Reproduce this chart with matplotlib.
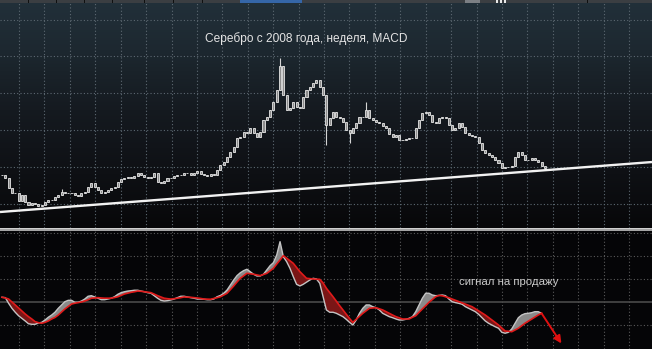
import numpy as np
import matplotlib
matplotlib.use("Agg")
import matplotlib.pyplot as plt
from matplotlib.patches import Rectangle
from matplotlib.colors import LinearSegmentedColormap

# Weekly silver closes (USD/oz), 2008 onwards
close = [
    17.86, 17.05, 14.34, 12.98, 12.98, 10.81, 12.44, 10.54, 9.73, 10.27,
    10.00, 9.46, 9.73, 10.54, 11.08, 11.08, 11.90, 12.44, 13.25, 12.98,
    12.98, 12.98, 12.44, 12.17, 12.98, 13.25, 14.61, 15.69, 14.61, 13.79,
    12.98, 13.25, 13.79, 14.34, 14.61, 15.96, 16.78, 17.05, 17.32, 17.05,
    17.59, 18.40, 17.86, 17.32, 17.05, 17.32, 18.40, 15.96, 15.69, 16.23,
    17.05, 17.05, 17.59, 17.86, 17.86, 18.40, 18.40, 17.86, 18.40, 18.95,
    18.13,
    17.86, 17.59, 18.13, 17.86, 19.22, 20.57, 21.39, 22.74, 24.10, 25.46,
    27.90, 28.17, 29.52, 29.25, 30.61, 29.25, 28.17, 29.52, 32.78, 33.59,
    35.49, 37.66, 40.91, 47.42, 39.56, 35.49, 36.03, 37.66, 36.30, 36.03,
    39.01, 40.91, 41.73, 42.81, 43.62, 41.73, 39.56, 31.42, 33.32, 34.95,
    33.59, 33.32, 32.23, 30.07, 29.25, 30.61, 31.96, 33.59, 33.59, 35.49,
    33.32,
    32.78, 32.23, 31.96, 31.15, 30.61, 28.98, 28.17, 28.71, 27.35, 27.35,
    27.62, 27.90, 27.90, 30.61, 32.78, 34.68, 34.95, 34.13, 32.23, 31.96,
    33.32, 33.59, 33.32, 31.42, 30.07, 30.61, 31.96, 30.88, 29.25, 28.71,
    28.44, 28.17, 26.54, 24.64, 23.83, 23.29, 22.74, 21.93, 21.12, 19.76,
    20.03, 20.03, 20.30, 22.74, 24.10, 23.29, 21.93, 21.93, 22.47, 21.93,
    21.39, 20.30, 19.76,
]

# Extreme intrabar highs / lows beyond the bodies
wick_high = {84: 49.6, 110: 37.7, 18: 14.1}
wick_low = {98: 26.0, 105: 26.5}

# MACD line and signal line
macd = [
    0.43, 0.40, -0.09, -0.52, -0.86, -1.16, -1.38, -1.61, -1.85, -1.90,
    -1.90, -1.79, -1.73, -1.53, -1.29, -1.10, -0.86, -0.52, -0.23, 0.05,
    0.17, 0.17, 0.00, 0.00, 0.11, 0.28, 0.52, 0.57, 0.46, 0.35,
    0.22, 0.22, 0.28, 0.35, 0.48, 0.69, 0.83, 0.91, 0.97, 1.00,
    1.04, 1.04, 0.97, 0.91, 0.83, 0.78, 0.57, 0.35, 0.17, 0.11,
    0.14, 0.20, 0.28, 0.40, 0.52, 0.52, 0.46, 0.40, 0.35, 0.28,
    0.28, 0.26, 0.22, 0.22, 0.28, 0.48, 0.59, 0.78, 1.06, 1.49,
    1.92, 2.30, 2.55, 2.73, 2.85, 2.64, 2.42, 2.27, 2.27, 2.42,
    2.79, 3.16, 3.42, 4.08, 5.23, 3.93, 3.50, 2.93, 2.21, 1.55,
    1.41, 1.55, 1.73, 1.92, 2.07, 2.01, 1.64, 0.48, -0.66, -0.86,
    -0.86, -0.95, -1.10, -1.24, -1.47, -1.73, -1.96, -1.53, -0.95, -0.52,
    -0.23, -0.23, -0.38, -0.47, -0.66, -0.95, -1.10, -1.24, -1.33, -1.44,
    -1.53, -1.53, -1.47, -1.38, -1.24, -0.81, -0.23, 0.35, 0.78, 0.78,
    0.63, 0.57, 0.59, 0.63, 0.57, 0.28, 0.05, -0.03, -0.09, -0.17,
    -0.38, -0.52, -0.66, -0.81, -1.04, -1.33, -1.61, -1.81, -1.96, -2.11,
    -2.24, -2.59, -2.67, -2.59, -2.30, -1.81, -1.33, -1.10, -0.98, -0.95,
    -0.90, -0.81, -0.81, -0.95,
]
signal = [
    0.43, 0.37, 0.28, 0.03, -0.23, -0.49, -0.75, -1.01, -1.24, -1.44,
    -1.67, -1.76, -1.81, -1.73, -1.61, -1.44, -1.31, -1.10, -0.84, -0.58,
    -0.36, -0.15, -0.08, -0.03, 0.03, 0.11, 0.22, 0.35, 0.37, 0.40,
    0.37, 0.35, 0.35, 0.35, 0.41, 0.48, 0.60, 0.72, 0.79, 0.86,
    0.91, 0.97, 0.95, 0.91, 0.87, 0.83, 0.70, 0.57, 0.46, 0.35,
    0.31, 0.28, 0.31, 0.35, 0.40, 0.46, 0.44, 0.43, 0.40, 0.37,
    0.33, 0.28, 0.27, 0.26, 0.33, 0.40, 0.48, 0.63, 0.78, 1.09,
    1.41, 1.75, 2.07, 2.29, 2.50, 2.46, 2.42, 2.36, 2.30, 2.40,
    2.50, 2.72, 2.93, 3.30, 3.65, 4.02, 3.80, 3.58, 3.36, 3.00,
    2.64, 2.36, 2.07, 2.04, 2.01, 1.99, 1.98, 1.67, 1.21, 0.85,
    0.48, 0.09, -0.29, -0.66, -1.04, -1.40, -1.73, -1.47, -1.21, -0.95,
    -0.73, -0.52, -0.49, -0.47, -0.56, -0.66, -0.81, -0.95, -1.10, -1.24,
    -1.34, -1.44, -1.44, -1.44, -1.29, -1.16, -0.86, -0.58, -0.29, 0.00,
    0.24, 0.48, 0.59, 0.56, 0.48, 0.39, 0.28, 0.17, 0.05, -0.06,
    -0.17, -0.28, -0.38, -0.56, -0.75, -0.92, -1.10, -1.31, -1.53, -1.74,
    -1.96, -2.22, -2.48, -2.50, -2.54, -2.39, -2.24, -2.03, -1.81, -1.63,
    -1.44, -1.27, -1.10, -0.95,
]

# Rising support line under the 2008 lows
support_start = 7.87     # level at the first bar
support_slope = 0.0688   # rise per bar

title = "Серебро с 2008 года, неделя, MACD"
note = "сигнал на продажу"

# ---------------------------------------------------------------- layout
W, H = 652, 349
fig = plt.figure(figsize=(W / 100, H / 100), dpi=100, facecolor="#050507")

px_per_bar = 3.31
x0 = -2 / px_per_bar
x1 = (W - 2) / px_per_bar

top_h = 228
ax = fig.add_axes([0, 1 - top_h / H, 1, top_h / H])
axm = fig.add_axes([0, 0, 1, (H - 231) / H])

for a in (ax, axm):
    a.set_xlim(x0, x1)
    a.set_facecolor("#050507")
    for s in a.spines.values():
        s.set_visible(False)
    a.tick_params(length=0, labelbottom=False, labelleft=False)

ax.set_ylim(3.49, 65.32)
axm.set_ylim(-4.03, 6.15)

# background gradient of the price pane
stops = [(0.0, "#070709"), (0.12, "#0b0c0f"), (0.35, "#111419"),
         (0.52, "#151a20"), (0.69, "#1a232a"), (0.78, "#1d2830"),
         (1.0, "#22303a")]
cmap = LinearSegmentedColormap.from_list("pane", stops)
grad = np.linspace(0, 1, 256).reshape(-1, 1)
ax.imshow(grad, extent=[x0, x1, 3.49, 65.32], origin="lower",
          aspect="auto", cmap=cmap, zorder=0)

# dotted grid, shared columns
grid_first, grid_step = 5.136, 7.68
cols = grid_first + grid_step * np.arange(25)
for a, c in ((ax, "#5d6972"), (axm, "#5a5a5a")):
    for xv in cols:
        a.axvline(xv, color=c, lw=0.8, ls=(0, (1, 2)), zorder=1)
for yv in (10, 20, 30, 40, 50, 60):
    ax.axhline(yv, color="#5d6972", lw=0.8, ls=(0, (1, 2)), zorder=1)
for yv in (-2, 2, 4, 6):
    axm.axhline(yv, color="#5a5a5a", lw=0.8, ls=(0, (1, 2)), zorder=1)
axm.axhline(0, color="#4a4a4a", lw=1.2, zorder=1)

# ---------------------------------------------------------------- price
c = np.array(close)
idx = np.arange(len(c))
o = np.r_[c[0], c[:-1]]
body_lo = np.minimum(o, c)
body_hi = np.maximum(o, c)
hi = body_hi.copy()
lo = body_lo.copy()
for k, v in wick_high.items():
    hi[k] = v
for k, v in wick_low.items():
    lo[k] = v
ax.vlines(idx, lo, hi, color="#d4d4d4", lw=0.8, zorder=3)
ax.bar(idx, body_hi - body_lo, bottom=body_lo, width=0.62,
       facecolor="#8c8c8c", edgecolor="#e6e6e6", linewidth=0.6, zorder=4)

xs = np.array([x0, x1])
ax.plot(xs, support_start + support_slope * xs, color="#f2f2f2",
        lw=1.7, zorder=5, solid_capstyle="butt")

ax.text(203 / px_per_bar, 65.32 - 39 * 0.27119, title,
        color="#e4e4e4", fontsize=8.6, family="Liberation Sans",
        ha="left", va="center", zorder=6)

# ---------------------------------------------------------------- MACD
m = np.array(macd)
s = np.array(signal)
mi = np.arange(len(m))
axm.fill_between(mi, m, s, where=m >= s, interpolate=True,
                 color="#8a8a8a", lw=0, zorder=2)
axm.fill_between(mi, m, s, where=m < s, interpolate=True,
                 color="#7a1616", lw=0, zorder=2)
axm.plot(mi, m, color="#c4c4c4", lw=1.0, zorder=3)
axm.plot(mi, s, color="#e01a1a", lw=1.2, zorder=4)

axm.annotate("", xy=(mi[-1] + 6.0, s[-1] - 2.6), xytext=(mi[-1], s[-1]),
             arrowprops=dict(arrowstyle="-|>", color="#e01010", lw=1.4,
                             mutation_scale=11, shrinkA=0, shrinkB=0),
             zorder=5)

axm.text(457 / px_per_bar, (302.3 - 282) / 11.59, note, color="#cccccc",
         fontsize=8.2, family="Liberation Sans", ha="left", va="center",
         zorder=6)

# ---------------------------------------------------------------- chrome
def fig_rect(x, y, w, h, color, z=10):
    fig.add_artist(Rectangle((x / W, 1 - (y + h) / H), w / W, h / H,
                             transform=fig.transFigure, color=color,
                             lw=0, zorder=z))

fig_rect(0, 228, W, 3, "#a4a4a4")
fig_rect(0, 228, W, 1, "#cfcfcf", 11)
fig_rect(0, 0, W, 3, "#3b3e42")
fig_rect(240, 0, 62, 3, "#3566a8", 11)
fig_rect(465, 0, 15, 3, "#7c7f84", 11)
for xb in (496, 500, 504):
    fig_rect(xb, 0, 2, 3, "#e8e8e8", 11)
for xb in (28, 56, 84, 112, 144, 173, 202, 587):
    fig_rect(xb, 0, 1, 3, "#101010", 11)

fig.savefig("out.png", dpi=100, facecolor=fig.get_facecolor())
